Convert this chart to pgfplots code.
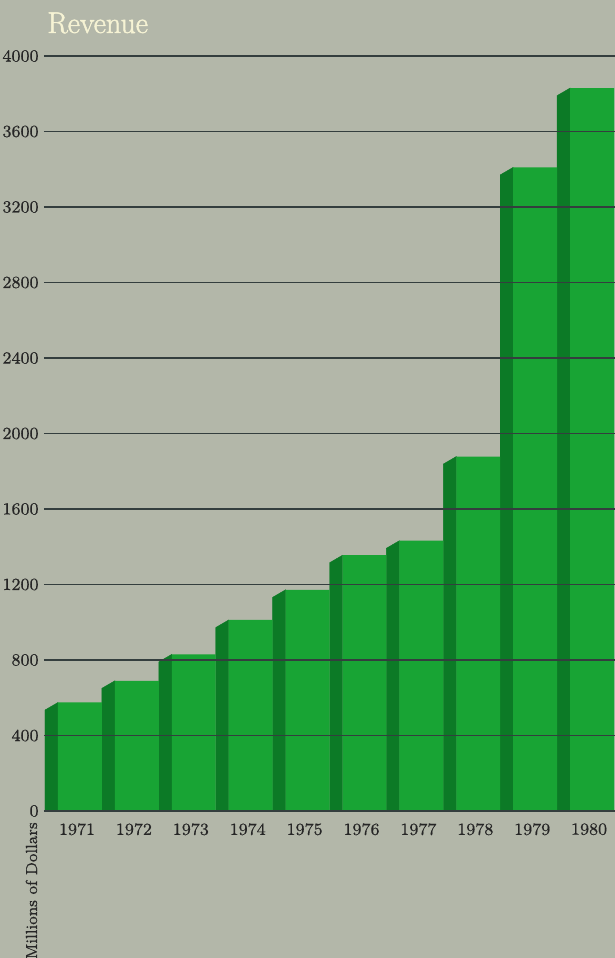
\documentclass[border=0pt]{standalone}
\usepackage{fontspec}
\newfontfamily\titlefont{Latin Modern Roman}[FakeBold=1.6]
\newfontfamily\tickfont{Latin Modern Roman}[FakeBold=0.5]
\usepackage{pgfplots}
\pgfplotsset{compat=1.18}
\definecolor{bg}{RGB}{179,183,169}
\definecolor{front}{RGB}{24,164,52}
\definecolor{side}{RGB}{12,122,38}
\definecolor{gridc}{RGB}{52,62,62}
\definecolor{titlec}{RGB}{246,243,212}
\begin{document}
\begin{tikzpicture}
\fill[bg] (-22pt,-73.5pt) rectangle (285.5pt,405.5pt);
\begin{axis}[
  at={(0,0)}, anchor=south west,
  scale only axis, width=285.5pt, height=377.5pt,
  xmin=-0.580, xmax=9.455, ymin=0, ymax=4000,
  axis line style={draw=none},
  major tick length=0pt,
  xtick={0,...,9},
  xticklabels={1971,1972,1973,1974,1975,1976,1977,1978,1979,1980},
  ytick={0,400,...,4000},
  scaled y ticks=false,
  ymajorgrids, grid style={gridc, line width=0.8pt},
  axis on top,
  clip=false,
  tick label style={font=\tickfont\fontsize{8.5}{10}\selectfont, text=black!85},
  yticklabel style={inner sep=0pt, xshift=-2.5pt, /pgf/number format/1000 sep={}, /pgf/number format/assume math mode=true},
  xticklabel style={inner sep=0pt, anchor=north, yshift=-6pt},
]
% side (dark) faces with slanted tops
\addplot[fill=side, draw=side, line width=0.2pt] coordinates {
 (-0.5624,0) (-0.5624,535) (-0.334,575) (-0.334,0)
 (0.4376,0) (0.4376,650) (0.666,690) (0.666,0)
 (1.4376,0) (1.4376,790) (1.666,830) (1.666,0)
 (2.4376,0) (2.4376,972) (2.666,1012) (2.666,0)
 (3.4376,0) (3.4376,1132) (3.666,1172) (3.666,0)
 (4.4376,0) (4.4376,1315) (4.666,1355) (4.666,0)
 (5.4376,0) (5.4376,1392) (5.666,1432) (5.666,0)
 (6.4376,0) (6.4376,1838) (6.666,1878) (6.666,0)
 (7.4376,0) (7.4376,3370) (7.666,3410) (7.666,0)
 (8.4376,0) (8.4376,3790) (8.666,3830) (8.666,0)
} -- cycle;
% front faces
\addplot[ybar, bar width=0.7716, bar shift=0.0518, fill=front, draw=none] coordinates {
 (0,575) (1,690) (2,830) (3,1012) (4,1172) (5,1355) (6,1432) (7,1878) (8,3410) (9,3830)
};
\node[anchor=base west, inner sep=0pt, font=\titlefont\fontsize{15}{17}\selectfont, text=titlec] at (axis cs:-0.527,4122) {Revenue};
\node[rotate=90, anchor=base east, inner sep=0pt, font=\tickfont\fontsize{8}{10}\selectfont, text=black!85] at (axis cs:-0.703,-58) {Millions of Dollars};
\end{axis}
\pgfresetboundingbox
\path[use as bounding box] (-22pt,-73.5pt) rectangle (285.5pt,405.5pt);
\end{tikzpicture}
\end{document}
